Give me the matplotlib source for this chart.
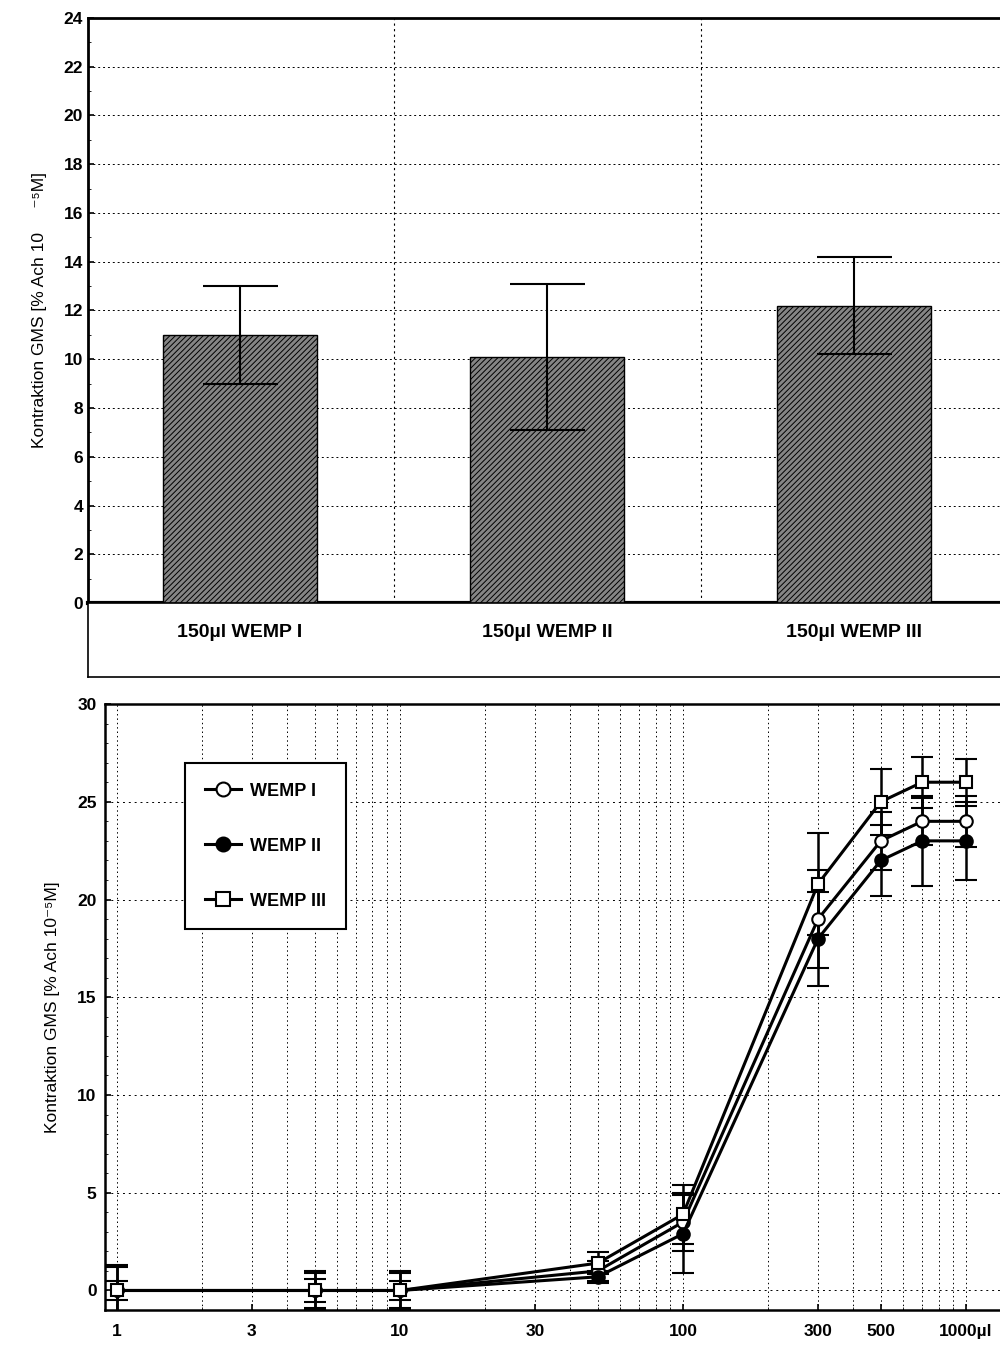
import matplotlib
matplotlib.use("Agg")
import matplotlib.pyplot as plt
import numpy as np
from matplotlib.ticker import MultipleLocator, FixedLocator, NullFormatter
from matplotlib.lines import Line2D

plt.rcParams['font.family'] = ['Liberation Sans', 'DejaVu Sans']
plt.rcParams['hatch.linewidth'] = 0.7

# ---- data: top bar chart ----
bar_labels = ["150µl WEMP I", "150µl WEMP II", "150µl WEMP III"]
bar_values = [11.0, 10.1, 12.2]
bar_errors = [2.0, 3.0, 2.0]

# ---- data: bottom dose-response chart ----
doses = [1, 5, 10, 50, 100, 300, 500, 700, 1000]
wemp1 = [0.0, 0.0, 0.0, 1.0, 3.5, 19.0, 23.0, 24.0, 24.0]
wemp1_err = [1.2, 1.0, 1.0, 0.5, 1.5, 2.5, 1.5, 1.2, 1.3]
wemp2 = [0.0, 0.0, 0.0, 0.7, 2.9, 18.0, 22.0, 23.0, 23.0]
wemp2_err = [0.5, 0.6, 0.5, 0.3, 2.0, 2.4, 1.8, 2.3, 2.0]
wemp3 = [0.0, 0.0, 0.0, 1.4, 3.9, 20.8, 25.0, 26.0, 26.0]
wemp3_err = [1.3, 0.9, 0.9, 0.55, 1.5, 2.6, 1.7, 1.3, 1.2]
xtick_vals = [1, 3, 10, 30, 100, 300, 500, 1000]
xtick_labels = ["1", "3", "10", "30", "100", "300", "500", "1000µl"]

fig = plt.figure(figsize=(10, 13.5), dpi=100)

# ---------------- top bar chart ----------------
ax1 = fig.add_axes([0.088, 0.5533, 0.912, 0.4334])
x = np.arange(len(bar_values))
ax1.bar(x, bar_values, width=0.5, color='#858585', edgecolor='black',
        hatch='//////', linewidth=1.0, zorder=3)
ax1.errorbar(x, bar_values, yerr=bar_errors, fmt='none', ecolor='black',
             elinewidth=1.5, capsize=27, capthick=1.5, zorder=4)
ax1.set_xlim(-0.495, 2.475)
ax1.set_ylim(0, 24)
ax1.set_yticks(np.arange(0, 25, 2))
ax1.yaxis.set_minor_locator(MultipleLocator(1))
ax1.set_xticks([])
for v in np.arange(2, 24, 2):
    ax1.axhline(v, color='black', lw=0.7, ls=(0, (2, 3)), zorder=1)
for v in [0.5, 1.5]:
    ax1.axvline(v, color='black', lw=0.8, ls=(0, (2, 3)), zorder=1)
for lab in ax1.get_yticklabels():
    lab.set_fontweight('bold')
ax1.tick_params(axis='y', labelsize=12.5, direction='in', length=4, width=1.2)
ax1.tick_params(axis='y', which='minor', direction='in', length=2)
ax1.spines['left'].set_linewidth(2)
ax1.spines['top'].set_linewidth(2)
ax1.spines['bottom'].set_linewidth(3)
ax1.spines['right'].set_visible(False)
ax1.set_ylabel("Kontraktion GMS [% Ach 10     ⁻⁵M]", fontsize=12.5, labelpad=12)

# label box
axl = fig.add_axes([0.088, 0.4985, 0.912, 0.0548])
axl.set_xlim(-0.495, 2.475)
axl.set_ylim(0, 1)
axl.set_xticks([])
axl.set_yticks([])
for s in ['left', 'bottom', 'top']:
    axl.spines[s].set_linewidth(1.2)
axl.spines['right'].set_visible(False)
for xi, lab in zip(x, bar_labels):
    axl.text(xi, 0.6, lab, ha='center', va='center', fontsize=14,
             fontweight='bold')

# ---------------- bottom dose-response chart ----------------
ax2 = fig.add_axes([0.105, 0.0296, 0.895, 0.4489])
ax2.set_xscale('log')
ax2.set_xlim(0.908, 1318)
ax2.set_ylim(-1.0, 30)

series = [
    (wemp1, wemp1_err, 'WEMP I', dict(marker='o', mfc='white')),
    (wemp2, wemp2_err, 'WEMP II', dict(marker='o', mfc='black')),
    (wemp3, wemp3_err, 'WEMP III', dict(marker='s', mfc='white')),
]
handles = []
for vals, errs, lab, mk in series:
    ax2.errorbar(doses, vals, yerr=errs, color='black', lw=2.2,
                 elinewidth=1.8, capsize=8, capthick=1.8,
                 markersize=9, mec='black', mew=1.5,
                 zorder=4, **mk)
    handles.append(Line2D([], [], color='black', lw=2.2, markersize=10,
                          mec='black', mew=1.5, label=lab, **mk))

ax2.xaxis.set_major_locator(FixedLocator(xtick_vals))
ax2.set_xticklabels(xtick_labels)
ax2.xaxis.set_minor_formatter(NullFormatter())
ax2.set_yticks([0, 5, 10, 15, 20, 25, 30])
ax2.yaxis.set_minor_locator(MultipleLocator(1))
for lab in ax2.get_xticklabels() + ax2.get_yticklabels():
    lab.set_fontweight('bold')
ax2.tick_params(axis='both', labelsize=12.5, direction='in', length=4, width=1.2)
ax2.tick_params(axis='both', which='minor', direction='in', length=2)
ax2.tick_params(axis='x', pad=10)
ax2.tick_params(axis='y', pad=6)
ax2.grid(True, which='both', axis='x', color='black', lw=0.7, ls=(0, (1.5, 3)))
for v in [0, 5, 10, 15, 20, 25]:
    ax2.axhline(v, color='black', lw=0.7, ls=(0, (2, 4)), zorder=1)
ax2.set_axisbelow(True)
for s in ['left', 'bottom', 'top']:
    ax2.spines[s].set_linewidth(1.8)
ax2.spines['right'].set_visible(False)
ax2.set_ylabel("Kontraktion GMS [% Ach 10⁻⁵M]", fontsize=12.5, labelpad=12)

leg = ax2.legend(handles=handles, loc='upper left',
                 bbox_to_anchor=(0.089, 0.903), borderaxespad=0,
                 frameon=True, fancybox=False, edgecolor='black',
                 labelspacing=2.1, handlelength=2.0, handletextpad=0.5,
                 borderpad=1.1, prop={'weight': 'bold', 'size': 13})
leg.get_frame().set_linewidth(1.5)
leg.get_frame().set_alpha(1)

fig.savefig("out.png", dpi=100)
